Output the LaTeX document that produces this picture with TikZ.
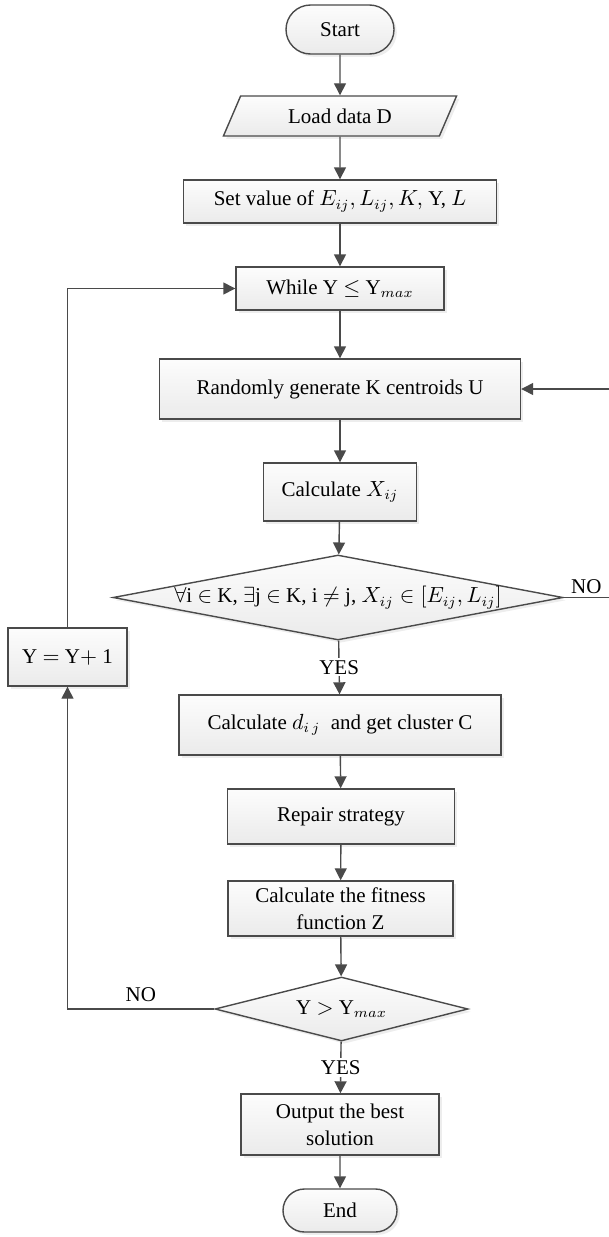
\documentclass[tikz,border=0pt]{standalone}
\usepackage{fontspec}
\setmainfont{Liberation Serif}
\usepackage{tikz}
\usetikzlibrary{shapes.geometric,shapes.misc,shadows,arrows.meta}
\definecolor{linegray}{HTML}{4A4A4A}
\tikzset{%
  flowbox/.style  = {shape=rectangle, draw=linegray, line width=0.7pt,%
                     align=center, inner sep=2pt,%
                     top color=gray!2, bottom color=gray!16,%
                     drop shadow={shadow xshift=1.4pt, shadow yshift=-1.4pt, fill=black!14}},%
  termnode/.style = {flowbox, shape=rounded rectangle},%
  iobox/.style    = {flowbox, shape=trapezium, trapezium left angle=67,%
                     trapezium right angle=113, trapezium stretches=true},%
  decision/.style = {flowbox, shape=diamond, inner sep=0pt},%
  flow/.style     = {draw=linegray, line width=0.7pt,%
                     -{Triangle[length=6pt,width=6pt]}}%
}

\begin{document}
\begin{tikzpicture}[x=0.5pt,y=-0.5pt,every node/.style={font=\fontsize{10.5}{13.5}\selectfont}]
	\useasboundingbox (0,0) rectangle (609,1237);
	% main column
	\node [termnode, minimum width=58pt, minimum height=24.5pt] (start) at (340,29.5) {Start};
	\node [iobox, minimum width=117pt, minimum height=20pt] (load) at (340,116) {Load data D};
	\node [flowbox, minimum width=156.5pt, minimum height=21.5pt] (setv) at (340,201.5)
		{Set value of $E_{ij}, L_{ij}, K,$ Υ, $L$};
	\node [flowbox, minimum width=104pt, minimum height=21.5pt] (while) at (340,288.5)
		{While Υ $\leq$ Υ$_{max}$};
	\node [flowbox, minimum width=180.5pt, minimum height=30pt] (rand) at (340,389)
		{Randomly generate K centroids U};
	\node [flowbox, minimum width=76.5pt, minimum height=29pt] (calcx) at (340,492)
		{Calculate $X_{ij}$};
	\node [decision, minimum width=225pt, minimum height=42.5pt] (check) at (338,597.5)
		[label=center:{$\forall$i $\in$ K, $\exists$j $\in$ K, i $\neq$ j, $X_{ij} \in [E_{ij}, L_{ij}]$}] {};
	\node [flowbox, minimum width=161pt, minimum height=30pt] (calcd) at (340,725)
		{Calculate $d_{i\,j}$\ \ and get cluster C};
	\node [flowbox, minimum width=113.5pt, minimum height=27.5pt] (repair) at (341,816.5)
		{Repair strategy};
	\node [flowbox, minimum width=112.5pt, minimum height=27.5pt] (fitness) at (340.5,908.5)
		{Calculate the fitness\\function Z};
	\node [decision, minimum width=126.5pt, minimum height=32pt] (stop) at (341.5,1009)
		[label=center:{Υ $>$ Υ$_{max}$}] {};
	\node [flowbox, minimum width=99pt, minimum height=30.5pt] (output) at (340,1124.5)
		{Output the best\\solution};
	\node [termnode, minimum width=61pt, minimum height=21.5pt] (end) at (340,1210.5) {End};
	% loop counter
	\node [flowbox, minimum width=59.5pt, minimum height=29pt] (incr) at (67.5,657)
		{Υ $=$ Υ$+$ 1};
	\coordinate (edgeout) at (609,597.5);
	\coordinate (edgein) at (609,389);

	\draw [flow] (start) -- (load);
	\draw [flow] (load) -- (setv);
	\draw [flow] (setv) -- (while);
	\draw [flow] (while) -- (rand);
	\draw [flow] (rand) -- (calcx);
	\draw [flow] (calcx) -- (check);
	\draw [flow] (check) -- node [fill=white, inner sep=1pt] {YES} (calcd);
	\draw [flow] (calcd) -- (repair);
	\draw [flow] (repair) -- (fitness);
	\draw [flow] (fitness) -- (stop);
	\draw [flow] (stop) -- node [fill=white, inner sep=1pt] {YES} (output);
	\draw [flow] (output) -- (end);
	\draw [flow] (stop.west) -| node [pos=0.25, above] {NO} (incr.south);
	\draw [flow] (incr.north) |- (while.west);
	\draw [flow, -] (check.east) -- node [above, inner sep=1.5pt] {NO} (edgeout);
	\draw [flow] (edgein) -- (rand.east);
\end{tikzpicture}
\end{document}
